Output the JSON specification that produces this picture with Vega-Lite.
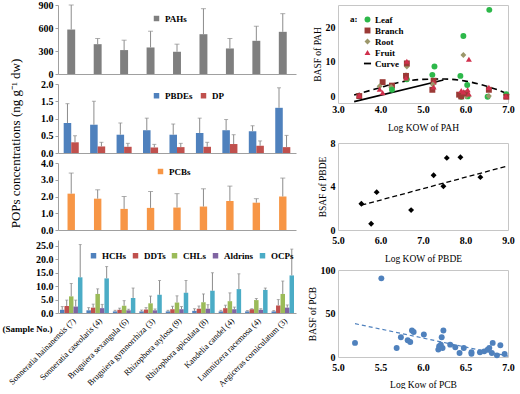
{
  "$schema": "https://vega.github.io/schema/vega-lite/v6.json",
  "background": "white",
  "padding": {"left": 2, "top": 0, "right": 2, "bottom": 0},
  "config": {
    "font": "Liberation Serif",
    "view": {"stroke": "#c6c6c6"},
    "axis": {"grid": false, "labelFont": "Liberation Serif", "titleFont": "Liberation Serif", "labelColor": "black", "titleColor": "black", "domainColor": "#a0a0a0", "tickColor": "#a0a0a0", "labelFontWeight": "bold", "titleFontWeight": "normal", "labelFontSize": 10},
    "legend": {"labelFont": "Liberation Serif", "labelFontWeight": "bold", "labelColor": "black", "titleFont": "Liberation Serif"},
    "text": {"font": "Liberation Serif"}
  },
  "datasets": {
    "pah": [
      {"species": "Sonneratia hainanensis (7)", "group": "PAHs", "value": 580, "err": 900},
      {"species": "Sonneratia caseolaris (4)", "group": "PAHs", "value": 389, "err": 463},
      {"species": "Bruguiera sexangula (6)", "group": "PAHs", "value": 312, "err": 441},
      {"species": "Bruguiera gymnorrhiza (3)", "group": "PAHs", "value": 346, "err": 558},
      {"species": "Rhizophora stylosa (9)", "group": "PAHs", "value": 290, "err": 389},
      {"species": "Rhizophora apiculata (8)", "group": "PAHs", "value": 519, "err": 852},
      {"species": "Kandelia candel (4)", "group": "PAHs", "value": 333, "err": 463},
      {"species": "Lumnitzera racemosa (4)", "group": "PAHs", "value": 433, "err": 623},
      {"species": "Aegiceras corniculatum (3)", "group": "PAHs", "value": 550, "err": 787}
    ],
    "pbde": [
      {"species": "Sonneratia hainanensis (7)", "group": "PBDEs", "value": 0.87, "err": 1.43},
      {"species": "Sonneratia hainanensis (7)", "group": "DP", "value": 0.31, "err": 0.50},
      {"species": "Sonneratia caseolaris (4)", "group": "PBDEs", "value": 0.82, "err": 1.50},
      {"species": "Sonneratia caseolaris (4)", "group": "DP", "value": 0.19, "err": 0.31},
      {"species": "Bruguiera sexangula (6)", "group": "PBDEs", "value": 0.53, "err": 0.87},
      {"species": "Bruguiera sexangula (6)", "group": "DP", "value": 0.18, "err": 0.28},
      {"species": "Bruguiera gymnorrhiza (3)", "group": "PBDEs", "value": 0.66, "err": 1.01},
      {"species": "Bruguiera gymnorrhiza (3)", "group": "DP", "value": 0.16, "err": 0.25},
      {"species": "Rhizophora stylosa (9)", "group": "PBDEs", "value": 0.53, "err": 0.84},
      {"species": "Rhizophora stylosa (9)", "group": "DP", "value": 0.17, "err": 0.28},
      {"species": "Rhizophora apiculata (8)", "group": "PBDEs", "value": 0.58, "err": 1.01},
      {"species": "Rhizophora apiculata (8)", "group": "DP", "value": 0.18, "err": 0.31},
      {"species": "Kandelia candel (4)", "group": "PBDEs", "value": 0.66, "err": 0.97},
      {"species": "Kandelia candel (4)", "group": "DP", "value": 0.26, "err": 0.53},
      {"species": "Lumnitzera racemosa (4)", "group": "PBDEs", "value": 0.63, "err": 0.79},
      {"species": "Lumnitzera racemosa (4)", "group": "DP", "value": 0.21, "err": 0.35},
      {"species": "Aegiceras corniculatum (3)", "group": "PBDEs", "value": 1.31, "err": 1.89},
      {"species": "Aegiceras corniculatum (3)", "group": "DP", "value": 0.17, "err": 0.51}
    ],
    "pcb": [
      {"species": "Sonneratia hainanensis (7)", "group": "PCBs", "value": 2.17, "err": 3.4},
      {"species": "Sonneratia caseolaris (4)", "group": "PCBs", "value": 1.87, "err": 2.4},
      {"species": "Bruguiera sexangula (6)", "group": "PCBs", "value": 1.26, "err": 2.0},
      {"species": "Bruguiera gymnorrhiza (3)", "group": "PCBs", "value": 1.32, "err": 2.3},
      {"species": "Rhizophora stylosa (9)", "group": "PCBs", "value": 1.34, "err": 2.17},
      {"species": "Rhizophora apiculata (8)", "group": "PCBs", "value": 1.40, "err": 2.46},
      {"species": "Kandelia candel (4)", "group": "PCBs", "value": 1.73, "err": 2.62},
      {"species": "Lumnitzera racemosa (4)", "group": "PCBs", "value": 1.63, "err": 1.87},
      {"species": "Aegiceras corniculatum (3)", "group": "PCBs", "value": 2.0, "err": 3.1}
    ],
    "ocp": [
      {"species": "Sonneratia hainanensis (7)", "group": "HCHs", "value": 1.2, "err": 2.4},
      {"species": "Sonneratia hainanensis (7)", "group": "DDTs", "value": 2.6, "err": 4.8},
      {"species": "Sonneratia hainanensis (7)", "group": "CHLs", "value": 6.2, "err": 11.0},
      {"species": "Sonneratia hainanensis (7)", "group": "Aldrins", "value": 2.4, "err": 4.8},
      {"species": "Sonneratia hainanensis (7)", "group": "OCPs", "value": 13.3, "err": 25.5},
      {"species": "Sonneratia caseolaris (4)", "group": "HCHs", "value": 1.0, "err": 2.0},
      {"species": "Sonneratia caseolaris (4)", "group": "DDTs", "value": 2.0, "err": 3.3},
      {"species": "Sonneratia caseolaris (4)", "group": "CHLs", "value": 7.1, "err": 9.0},
      {"species": "Sonneratia caseolaris (4)", "group": "Aldrins", "value": 1.8, "err": 3.2},
      {"species": "Sonneratia caseolaris (4)", "group": "OCPs", "value": 12.9, "err": 17.3},
      {"species": "Bruguiera sexangula (6)", "group": "HCHs", "value": 0.6, "err": 1.0},
      {"species": "Bruguiera sexangula (6)", "group": "DDTs", "value": 1.2, "err": 1.8},
      {"species": "Bruguiera sexangula (6)", "group": "CHLs", "value": 2.7, "err": 4.6},
      {"species": "Bruguiera sexangula (6)", "group": "Aldrins", "value": 1.0, "err": 1.4},
      {"species": "Bruguiera sexangula (6)", "group": "OCPs", "value": 5.6, "err": 9.3},
      {"species": "Bruguiera gymnorrhiza (3)", "group": "HCHs", "value": 0.6, "err": 1.1},
      {"species": "Bruguiera gymnorrhiza (3)", "group": "DDTs", "value": 1.3, "err": 2.0},
      {"species": "Bruguiera gymnorrhiza (3)", "group": "CHLs", "value": 3.6, "err": 6.3},
      {"species": "Bruguiera gymnorrhiza (3)", "group": "Aldrins", "value": 1.0, "err": 1.5},
      {"species": "Bruguiera gymnorrhiza (3)", "group": "OCPs", "value": 6.8, "err": 12.1},
      {"species": "Rhizophora stylosa (9)", "group": "HCHs", "value": 0.6, "err": 1.0},
      {"species": "Rhizophora stylosa (9)", "group": "DDTs", "value": 1.4, "err": 2.5},
      {"species": "Rhizophora stylosa (9)", "group": "CHLs", "value": 3.9, "err": 6.4},
      {"species": "Rhizophora stylosa (9)", "group": "Aldrins", "value": 1.4, "err": 2.4},
      {"species": "Rhizophora stylosa (9)", "group": "OCPs", "value": 7.5, "err": 12.1},
      {"species": "Rhizophora apiculata (8)", "group": "HCHs", "value": 0.8, "err": 1.6},
      {"species": "Rhizophora apiculata (8)", "group": "DDTs", "value": 1.6, "err": 2.6},
      {"species": "Rhizophora apiculata (8)", "group": "CHLs", "value": 4.0, "err": 7.1},
      {"species": "Rhizophora apiculata (8)", "group": "Aldrins", "value": 1.6, "err": 3.1},
      {"species": "Rhizophora apiculata (8)", "group": "OCPs", "value": 8.3, "err": 15.0},
      {"species": "Kandelia candel (4)", "group": "HCHs", "value": 0.6, "err": 1.0},
      {"species": "Kandelia candel (4)", "group": "DDTs", "value": 1.8, "err": 2.9},
      {"species": "Kandelia candel (4)", "group": "CHLs", "value": 4.4, "err": 7.5},
      {"species": "Kandelia candel (4)", "group": "Aldrins", "value": 1.4, "err": 2.2},
      {"species": "Kandelia candel (4)", "group": "OCPs", "value": 8.9, "err": 14.6},
      {"species": "Lumnitzera racemosa (4)", "group": "HCHs", "value": 0.6, "err": 0.9},
      {"species": "Lumnitzera racemosa (4)", "group": "DDTs", "value": 1.4, "err": 1.6},
      {"species": "Lumnitzera racemosa (4)", "group": "CHLs", "value": 4.8, "err": 5.4},
      {"species": "Lumnitzera racemosa (4)", "group": "Aldrins", "value": 1.2, "err": 1.6},
      {"species": "Lumnitzera racemosa (4)", "group": "OCPs", "value": 8.6, "err": 9.3},
      {"species": "Aegiceras corniculatum (3)", "group": "HCHs", "value": 0.6, "err": 0.9},
      {"species": "Aegiceras corniculatum (3)", "group": "DDTs", "value": 2.8, "err": 5.0},
      {"species": "Aegiceras corniculatum (3)", "group": "CHLs", "value": 7.1, "err": 11.9},
      {"species": "Aegiceras corniculatum (3)", "group": "Aldrins", "value": 2.0, "err": 3.0},
      {"species": "Aegiceras corniculatum (3)", "group": "OCPs", "value": 14.0, "err": 23.8}
    ],
    "pahbsaf": [
      {"tissue": "Branch", "logkow": 3.5, "bsaf": 0.2},
      {"tissue": "Fruit", "logkow": 3.5, "bsaf": 0.4},
      {"tissue": "Branch", "logkow": 4.05, "bsaf": 4.2},
      {"tissue": "Root", "logkow": 3.98, "bsaf": 3.0},
      {"tissue": "Fruit", "logkow": 3.98, "bsaf": 2.2},
      {"tissue": "Fruit", "logkow": 4.05, "bsaf": 1.2},
      {"tissue": "Branch", "logkow": 4.27, "bsaf": 3.2},
      {"tissue": "Root", "logkow": 4.25, "bsaf": 2.8},
      {"tissue": "Leaf", "logkow": 4.27, "bsaf": 2.0},
      {"tissue": "Leaf", "logkow": 4.62, "bsaf": 5.0},
      {"tissue": "Root", "logkow": 4.62, "bsaf": 8.7},
      {"tissue": "Branch", "logkow": 4.62, "bsaf": 9.6},
      {"tissue": "Fruit", "logkow": 4.62, "bsaf": 10.2},
      {"tissue": "Root", "logkow": 4.6, "bsaf": 6.2},
      {"tissue": "Branch", "logkow": 4.6, "bsaf": 6.0},
      {"tissue": "Fruit", "logkow": 4.6, "bsaf": 5.4},
      {"tissue": "Leaf", "logkow": 5.27, "bsaf": 8.7},
      {"tissue": "Leaf", "logkow": 5.22, "bsaf": 6.3},
      {"tissue": "Branch", "logkow": 5.25, "bsaf": 4.6},
      {"tissue": "Fruit", "logkow": 5.25, "bsaf": 4.2},
      {"tissue": "Root", "logkow": 5.23, "bsaf": 3.5},
      {"tissue": "Branch", "logkow": 5.22, "bsaf": 2.0},
      {"tissue": "Fruit", "logkow": 5.25, "bsaf": 2.8},
      {"tissue": "Leaf", "logkow": 5.95, "bsaf": 17.5},
      {"tissue": "Root", "logkow": 5.95, "bsaf": 12.0},
      {"tissue": "Fruit", "logkow": 6.08, "bsaf": 10.8},
      {"tissue": "Leaf", "logkow": 5.88, "bsaf": 6.0},
      {"tissue": "Leaf", "logkow": 6.04, "bsaf": 3.4},
      {"tissue": "Leaf", "logkow": 5.9, "bsaf": 0.0},
      {"tissue": "Leaf", "logkow": 6.05, "bsaf": 0.1},
      {"tissue": "Root", "logkow": 5.88, "bsaf": 0.3},
      {"tissue": "Root", "logkow": 6.02, "bsaf": 0.2},
      {"tissue": "Branch", "logkow": 5.85, "bsaf": 0.6},
      {"tissue": "Branch", "logkow": 5.9, "bsaf": 0.1},
      {"tissue": "Branch", "logkow": 6.02, "bsaf": 1.0},
      {"tissue": "Fruit", "logkow": 5.9, "bsaf": 1.8},
      {"tissue": "Fruit", "logkow": 5.95, "bsaf": 1.4},
      {"tissue": "Fruit", "logkow": 6.05, "bsaf": 2.0},
      {"tissue": "Fruit", "logkow": 6.08, "bsaf": 0.8},
      {"tissue": "Leaf", "logkow": 6.56, "bsaf": 25.0},
      {"tissue": "Leaf", "logkow": 6.52, "bsaf": 0.0},
      {"tissue": "Root", "logkow": 6.55, "bsaf": 0.2},
      {"tissue": "Branch", "logkow": 6.55, "bsaf": 2.0},
      {"tissue": "Fruit", "logkow": 6.55, "bsaf": 2.7},
      {"tissue": "Leaf", "logkow": 6.96, "bsaf": 0.7},
      {"tissue": "Branch", "logkow": 6.96, "bsaf": 0.0},
      {"tissue": "Fruit", "logkow": 6.95, "bsaf": 0.2}
    ],
    "pahcurve": [
      {"logkow": 3.38, "bsaf": 0.5},
      {"logkow": 3.9, "bsaf": 2.3},
      {"logkow": 4.5, "bsaf": 4.3},
      {"logkow": 5.0, "bsaf": 5.0},
      {"logkow": 5.5, "bsaf": 5.1},
      {"logkow": 6.0, "bsaf": 4.5},
      {"logkow": 6.5, "bsaf": 3.0},
      {"logkow": 6.8, "bsaf": 1.8},
      {"logkow": 7.0, "bsaf": 0.7}
    ],
    "pahline": [
      {"logkow": 3.38, "bsaf": -1.4},
      {"logkow": 5.48, "bsaf": 4.8}
    ],
    "pbdebsaf": [
      {"logkow": 5.55, "bsaf": 2.41},
      {"logkow": 5.78, "bsaf": 0.58},
      {"logkow": 5.91, "bsaf": 3.48},
      {"logkow": 6.72, "bsaf": 1.83},
      {"logkow": 7.25, "bsaf": 5.04},
      {"logkow": 7.48, "bsaf": 4.03},
      {"logkow": 7.56, "bsaf": 6.63},
      {"logkow": 7.88, "bsaf": 6.69},
      {"logkow": 8.35, "bsaf": 4.86}
    ],
    "pbdetrend": [
      {"logkow": 5.55, "bsaf": 2.28},
      {"logkow": 9.0, "bsaf": 5.90}
    ],
    "pcbbsaf": [
      {"logkow": 5.20, "bsaf": 16.2},
      {"logkow": 5.51, "bsaf": 90.4},
      {"logkow": 5.69, "bsaf": 10.4},
      {"logkow": 5.74, "bsaf": 22.7},
      {"logkow": 5.82, "bsaf": 19.2},
      {"logkow": 5.85, "bsaf": 17.3},
      {"logkow": 5.87, "bsaf": 30.4},
      {"logkow": 5.89, "bsaf": 28.8},
      {"logkow": 6.01, "bsaf": 25.8},
      {"logkow": 6.18, "bsaf": 8.5},
      {"logkow": 6.19, "bsaf": 12.3},
      {"logkow": 6.21, "bsaf": 14.2},
      {"logkow": 6.22, "bsaf": 22.7},
      {"logkow": 6.24, "bsaf": 30.4},
      {"logkow": 6.23, "bsaf": 10.4},
      {"logkow": 6.32, "bsaf": 14.2},
      {"logkow": 6.38, "bsaf": 11.2},
      {"logkow": 6.43, "bsaf": 4.6},
      {"logkow": 6.48, "bsaf": 10.4},
      {"logkow": 6.57, "bsaf": 5.4},
      {"logkow": 6.57, "bsaf": 3.8},
      {"logkow": 6.67, "bsaf": 5.4},
      {"logkow": 6.72, "bsaf": 6.5},
      {"logkow": 6.76, "bsaf": 8.5},
      {"logkow": 6.78, "bsaf": 10.4},
      {"logkow": 6.82, "bsaf": 16.2},
      {"logkow": 6.81, "bsaf": 4.6},
      {"logkow": 6.87, "bsaf": 1.9},
      {"logkow": 6.91, "bsaf": 13.5},
      {"logkow": 6.96, "bsaf": 3.5}
    ],
    "pcbtrend": [
      {"logkow": 5.2, "bsaf": 38.35},
      {"logkow": 7.0, "bsaf": 1.08}
    ]
  },
  "spacing": 10,
  "resolve": {"scale": {"color": "independent", "shape": "independent"}, "legend": {"color": "independent", "shape": "independent"}},
  "hconcat": [
    {
      "vconcat": [
        {
          "width": 238, "height": 69,
          "view": {"stroke": null},
          "data": {"name": "pah"},
          "encoding": {
            "x": {"field": "species", "type": "nominal", "sort": null, "scale": {"paddingInner": 0.7, "paddingOuter": 0.35}, "axis": {"labels": false, "ticks": false, "title": null}},
            "y": {"field": "value", "type": "quantitative", "scale": {"domain": [0, 900]}, "axis": {"values": [0, 300, 600, 900], "title": null, "tickSize": 3, "labelPadding": 2, "labelOverlap": false}}
          },
          "layer": [
            {"mark": {"type": "bar"}, "encoding": {
              "color": {"field": "group", "type": "nominal", "scale": {"domain": ["PAHs"], "range": ["#7f7f7f"]}, "legend": {"orient": "none", "legendX": 94, "legendY": 9, "title": null, "symbolType": "square", "symbolSize": 30, "labelFontSize": 9, "direction": "horizontal"}}}},
            {"mark": {"type": "rule", "color": "#8c8c8c"}, "encoding": {"y2": {"field": "err"}}},
            {"mark": {"type": "tick", "color": "#8c8c8c", "size": 5, "thickness": 1}, "encoding": {"y": {"field": "err", "type": "quantitative", "axis": {"values": [0, 300, 600, 900], "title": null, "tickSize": 3, "labelPadding": 2, "labelOverlap": false}}}}
          ]
        },
        {
          "width": 238, "height": 69,
          "view": {"stroke": null},
          "data": {"name": "pbde"},
          "encoding": {
            "x": {"field": "species", "type": "nominal", "sort": null, "scale": {"paddingInner": 0.43, "paddingOuter": 0.215}, "axis": {"labels": false, "ticks": false, "title": null}},
            "xOffset": {"field": "group", "sort": ["PBDEs", "DP"]},
            "y": {"field": "value", "type": "quantitative", "scale": {"domain": [0, 2]}, "axis": {"values": [0, 0.5, 1, 1.5, 2], "format": ".1f", "title": null, "tickSize": 3, "labelPadding": 2, "labelOverlap": false}}
          },
          "layer": [
            {"mark": {"type": "bar"}, "encoding": {
              "color": {"field": "group", "type": "nominal", "scale": {"domain": ["PBDEs", "DP"], "range": ["#4f81bd", "#c0504d"]}, "legend": {"orient": "none", "legendX": 94, "legendY": 7, "title": null, "symbolType": "square", "symbolSize": 30, "labelFontSize": 9, "direction": "horizontal", "columnPadding": 6}}}},
            {"mark": {"type": "rule", "color": "#8c8c8c"}, "encoding": {"y2": {"field": "err"}}},
            {"mark": {"type": "tick", "color": "#8c8c8c", "size": 4, "thickness": 1}, "encoding": {"y": {"field": "err", "type": "quantitative", "axis": {"values": [0, 0.5, 1, 1.5, 2], "format": ".1f", "title": null, "tickSize": 3, "labelPadding": 2, "labelOverlap": false}}}}
          ]
        },
        {
          "width": 238, "height": 67,
          "view": {"stroke": null},
          "data": {"name": "pcb"},
          "encoding": {
            "x": {"field": "species", "type": "nominal", "sort": null, "scale": {"paddingInner": 0.72, "paddingOuter": 0.36}, "axis": {"labels": false, "ticks": false, "title": null}},
            "y": {"field": "value", "type": "quantitative", "scale": {"domain": [0, 4]}, "axis": {"values": [0, 1, 2, 3, 4], "format": ".1f", "title": "POPs concentrations (ng g⁻¹ dw)", "titleFontSize": 13, "titleY": -20, "titlePadding": 18, "tickSize": 3, "labelPadding": 2, "labelOverlap": false}}
          },
          "layer": [
            {"mark": {"type": "bar"}, "encoding": {
              "color": {"field": "group", "type": "nominal", "scale": {"domain": ["PCBs"], "range": ["#f79646"]}, "legend": {"orient": "none", "legendX": 98, "legendY": 4, "title": null, "symbolType": "square", "symbolSize": 30, "labelFontSize": 9, "direction": "horizontal"}}}},
            {"mark": {"type": "rule", "color": "#8c8c8c"}, "encoding": {"y2": {"field": "err"}}},
            {"mark": {"type": "tick", "color": "#8c8c8c", "size": 5, "thickness": 1}, "encoding": {"y": {"field": "err", "type": "quantitative", "axis": {"values": [0, 1, 2, 3, 4], "format": ".1f", "title": "POPs concentrations (ng g⁻¹ dw)", "titleFontSize": 13, "titleY": -20, "titlePadding": 18, "tickSize": 3, "labelPadding": 2, "labelOverlap": false}}}}
          ]
        },
        {
          "width": 238, "height": 73,
          "view": {"stroke": null},
          "data": {"name": "ocp"},
          "encoding": {
            "x": {"field": "species", "type": "nominal", "sort": null, "scale": {"paddingInner": 0.15, "paddingOuter": 0.075}, "axis": {"title": "(Sample No.)", "titleX": -31, "titleY": 15, "titleFontWeight": "bold", "titleFontSize": 9, "titleAlign": "center", "titleBaseline": "middle", "labelAngle": -45, "labelFontWeight": "normal", "labelFontSize": 8.5, "labelLimit": 300, "ticks": false, "labelPadding": 3, "labelOverlap": false}},
            "xOffset": {"field": "group", "sort": ["HCHs", "DDTs", "CHLs", "Aldrins", "OCPs"]},
            "y": {"field": "value", "type": "quantitative", "scale": {"domain": [0, 27.2]}, "axis": {"values": [0, 5, 10, 15, 20, 25], "format": ".1f", "title": null, "tickSize": 3, "labelPadding": 2, "labelOverlap": false}}
          },
          "layer": [
            {"mark": {"type": "bar"}, "encoding": {
              "color": {"field": "group", "type": "nominal", "scale": {"domain": ["HCHs", "DDTs", "CHLs", "Aldrins", "OCPs"], "range": ["#4f81bd", "#c0504d", "#9bbb59", "#8064a2", "#4bacc6"]}, "legend": {"orient": "none", "legendX": 31, "legendY": 11, "title": null, "symbolType": "square", "symbolSize": 30, "labelFontSize": 9, "direction": "horizontal", "columnPadding": 4}}}},
            {"mark": {"type": "rule", "color": "#8c8c8c"}, "encoding": {"y2": {"field": "err"}}},
            {"mark": {"type": "tick", "color": "#8c8c8c", "size": 3, "thickness": 1}, "encoding": {"y": {"field": "err", "type": "quantitative", "axis": {"values": [0, 5, 10, 15, 20, 25], "format": ".1f", "title": null, "tickSize": 3, "labelPadding": 2, "labelOverlap": false}}}}
          ]
        }
      ],
      "spacing": 10,
      "bounds": "flush",
      "resolve": {"scale": {"color": "independent", "x": "independent", "y": "independent", "xOffset": "independent"}, "legend": {"color": "independent"}}
    },
    {
      "vconcat": [
        {
          "width": 170, "height": 98,
          "layer": [
            {"data": {"name": "pahline"}, "mark": {"type": "line", "color": "black", "strokeWidth": 1.6, "clip": true},
             "encoding": {"x": {"field": "logkow", "type": "quantitative"}, "y": {"field": "bsaf", "type": "quantitative"}}},
            {"data": {"name": "pahcurve"}, "mark": {"type": "line", "color": "black", "strokeWidth": 1.6, "strokeDash": [6, 4], "interpolate": "monotone"},
             "encoding": {"x": {"field": "logkow", "type": "quantitative"}, "y": {"field": "bsaf", "type": "quantitative"}}},
            {"data": {"name": "pahbsaf"}, "mark": {"type": "point", "filled": true, "opacity": 1, "size": 35},
             "encoding": {
               "x": {"field": "logkow", "type": "quantitative", "scale": {"domain": [3, 7], "nice": false}, "axis": {"title": "Log KOW of PAH", "values": [3, 4, 5, 6, 7], "format": ".1f", "domain": false, "ticks": false, "labelPadding": 1, "titlePadding": 8, "titleFontSize": 9.5, "labelFlush": false}},
               "y": {"field": "bsaf", "type": "quantitative", "scale": {"domain": [-1.8, 26.4], "nice": false, "zero": false}, "axis": {"title": "BASF of PAH", "values": [0, 5, 10, 15, 20, 25], "domain": false, "ticks": false, "labelPadding": 3, "titlePadding": 3, "titleFontSize": 9.5}},
               "color": {"field": "tissue", "type": "nominal", "scale": {"domain": ["Leaf", "Branch", "Root", "Fruit", "Curve"], "range": ["#2db84a", "#9b3a36", "#9c976a", "#d0304c", "#000000"]},
                 "legend": {"orient": "none", "legendX": 12, "legendY": 10, "title": "a:", "titleOrient": "left", "titleAnchor": "start", "titleBaseline": "top", "titleFontSize": 9, "titleFontWeight": "bold", "titleColor": "black", "titlePadding": 5, "labelFontSize": 9, "symbolSize": 35, "rowPadding": 1, "labelOffset": 3}},
               "shape": {"field": "tissue", "type": "nominal", "scale": {"domain": ["Leaf", "Branch", "Root", "Fruit", "Curve"], "range": ["circle", "square", "diamond", "triangle-up", "M-1.2,-0.3H1.2V0.3H-1.2Z"]}}
             }}
          ]
        },
        {
          "width": 170, "height": 87,
          "layer": [
            {"data": {"name": "pbdetrend"}, "mark": {"type": "line", "color": "black", "strokeWidth": 1.3, "strokeDash": [5, 3]},
             "encoding": {"x": {"field": "logkow", "type": "quantitative"}, "y": {"field": "bsaf", "type": "quantitative"}}},
            {"data": {"name": "pbdebsaf"}, "mark": {"type": "point", "filled": true, "opacity": 1, "size": 35, "shape": "diamond", "color": "black"},
             "encoding": {
               "x": {"field": "logkow", "type": "quantitative", "scale": {"domain": [5, 9], "nice": false}, "axis": {"title": "Log KOW of PBDE", "values": [5, 6, 7, 8, 9], "format": ".1f", "domain": false, "ticks": false, "labelPadding": 5, "titlePadding": 8, "titleFontSize": 9.5, "labelFlush": false}},
               "y": {"field": "bsaf", "type": "quantitative", "scale": {"domain": [0, 8], "nice": false}, "axis": {"title": "BSAF of PBDE", "values": [0, 2, 4, 6, 8], "domain": false, "ticks": false, "labelPadding": 3, "titlePadding": 3, "titleFontSize": 9.5}}
             }},
            {"mark": {"type": "text", "text": "b: Branch", "align": "left", "baseline": "middle", "fontWeight": "bold", "fontSize": 10},
             "encoding": {"x": {"datum": 5.22}, "y": {"datum": 6.6}}},
            {"mark": {"type": "text", "text": "y = 1.0495x - 3.5417", "align": "center", "baseline": "middle", "fontSize": 7.5},
             "encoding": {"x": {"datum": 8.1}, "y": {"datum": 2.25}}},
            {"mark": {"type": "text", "text": "R = 0.66, p = 0.04", "align": "center", "baseline": "middle", "fontSize": 7.5},
             "encoding": {"x": {"datum": 8.1}, "y": {"datum": 1.55}}}
          ]
        },
        {
          "width": 170, "height": 87,
          "layer": [
            {"data": {"name": "pcbtrend"}, "mark": {"type": "line", "color": "#4f81bd", "strokeWidth": 1.2, "strokeDash": [4, 3]},
             "encoding": {"x": {"field": "logkow", "type": "quantitative"}, "y": {"field": "bsaf", "type": "quantitative"}}},
            {"data": {"name": "pcbbsaf"}, "mark": {"type": "point", "filled": true, "opacity": 1, "size": 35, "shape": "circle", "color": "#4f81bd"},
             "encoding": {
               "x": {"field": "logkow", "type": "quantitative", "scale": {"domain": [5, 7], "nice": false}, "axis": {"title": "Log Kow of PCB", "values": [5, 5.5, 6, 6.5, 7], "format": ".1f", "domain": false, "ticks": false, "labelPadding": 5, "titlePadding": 7, "titleFontSize": 9.5, "labelFlush": false}},
               "y": {"field": "bsaf", "type": "quantitative", "scale": {"domain": [0, 100], "nice": false}, "axis": {"title": "BASF of PCB", "values": [0, 25, 50, 75, 100], "domain": false, "ticks": false, "labelPadding": 3, "titlePadding": 3, "titleFontSize": 9.5}}
             }},
            {"mark": {"type": "text", "text": "c: Tissues", "align": "left", "baseline": "middle", "fontWeight": "bold", "fontSize": 10},
             "encoding": {"x": {"datum": 5.13}, "y": {"datum": 70}}},
            {"mark": {"type": "text", "text": "y = -20.704x + 146.01", "align": "center", "baseline": "middle", "fontSize": 7.5},
             "encoding": {"x": {"datum": 6.58}, "y": {"datum": 69}}},
            {"mark": {"type": "text", "text": "R = 0.58, p = 0.001", "align": "center", "baseline": "middle", "fontSize": 7.5},
             "encoding": {"x": {"datum": 6.58}, "y": {"datum": 59}}}
          ]
        }
      ],
      "spacing": 40,
      "bounds": "flush",
      "resolve": {"scale": {"x": "independent", "y": "independent"}}
    }
  ]
}
